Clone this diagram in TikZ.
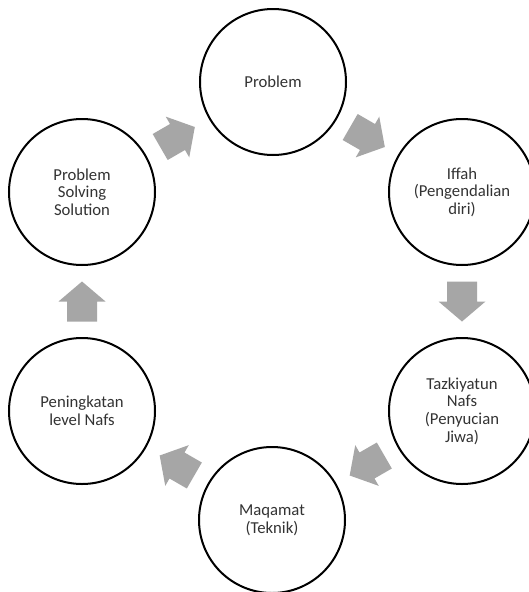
\documentclass[tikz,border=0pt]{standalone}
\usepackage{fontspec}
\setmainfont{Carlito}
\usetikzlibrary{calc}
\definecolor{arrowgray}{HTML}{A6A6A6}
\definecolor{txt}{HTML}{333333}
\tikzset{
  stage/.style={circle, draw=black, line width=2pt, fill=white, minimum size=146pt,
    inner sep=0pt, align=center, text=txt, font=\fontsize{16.7pt}{17.6pt}\selectfont},
  blockarrow/.pic={\fill[arrowgray] (-20pt,-15pt) -- (0pt,-15pt) -- (0pt,-23.5pt) -- (20pt,0pt)
    -- (0pt,23.5pt) -- (0pt,15pt) -- (-20pt,15pt) -- cycle;}
}
\begin{document}
\begin{tikzpicture}[x=1pt,y=-1pt]
\useasboundingbox (0,0) rectangle (529,592);
\clip (0,0) rectangle (529,592);
\fill[white] (0,0) rectangle (529,592);
\node[stage] (pb) at (273,82) {Problem};
\node[stage] (if) at (462,192) {Iffah\\(Pengendalian\\diri)};
\node[stage] (tz) at (462,411) {Tazkiyatun\\Nafs\\(Penyucian\\Jiwa)};
\node[stage] (mq) at (272,520) {Maqamat\\(Teknik)};
\node[stage] (pn) at (82,411) {Peningkatan\\level Nafs};
\node[stage] (ps) at (82,192) {Problem\\Solving\\Solution};
\path ($(ps)!0.5!(pb)$) pic[rotate=30] {blockarrow};
\path ($(pb)!0.5!(if)$) pic[rotate=-30] {blockarrow};
\path ($(if)!0.5!(tz)$) pic[rotate=-90] {blockarrow};
\path ($(tz)!0.5!(mq)$) pic[rotate=210] {blockarrow};
\path ($(mq)!0.5!(pn)$) pic[rotate=150] {blockarrow};
\path ($(pn)!0.5!(ps)$) pic[rotate=90] {blockarrow};
\end{tikzpicture}
\end{document}
